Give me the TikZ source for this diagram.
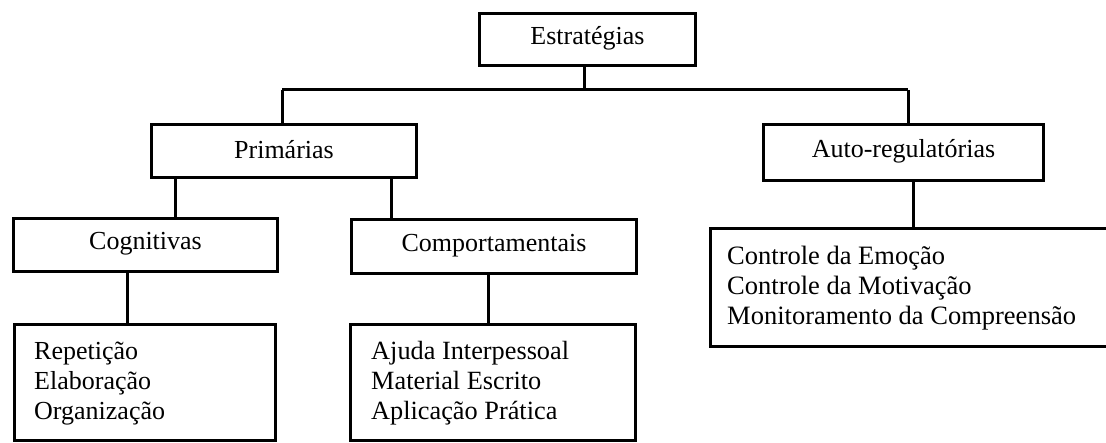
\documentclass[tikz,border=0pt]{standalone}
\usepackage{fontspec}
\setmainfont{Liberation Serif}
\begin{document}
\begin{tikzpicture}[x=1pt,y=1pt,
  box/.style={draw=black,line width=3pt,rectangle,inner sep=0pt},
  lbl/.style={inner sep=0pt,font=\fontsize{26}{30}\selectfont},
  lst/.style={inner sep=0pt,align=left,anchor=base west},
  conn/.style={draw=black,line width=3pt}]
\useasboundingbox (0,0) rectangle (1106,-443);
% boxes
\node[box,minimum width=216pt,minimum height=52.5pt] (E) at (587.5,-39.75) {};
\node[box,minimum width=265pt,minimum height=53pt] (P) at (284,-151) {};
\node[box,minimum width=280pt,minimum height=56pt] (A) at (903.5,-152.5) {};
\node[box,minimum width=264pt,minimum height=53pt] (C) at (145.5,-245) {};
\node[box,minimum width=285pt,minimum height=54pt] (M) at (494,-246.5) {};
\node[box,minimum width=261pt,minimum height=116pt] (CL) at (145,-382.5) {};
\node[box,minimum width=285pt,minimum height=116pt] (ML) at (493,-382.5) {};
\node[box,minimum width=401.5pt,minimum height=118.5pt] (AL) at (911.25,-287.75) {};
% labels
\node[lbl] (tE) at ([yshift=1pt]E.center) {Estratégias};
\node[lbl] (tP) at ([yshift=1pt]P.center) {Primárias};
\node[lbl] (tA) at ([yshift=1pt]A.center) {Auto-regulatórias};
\node[lbl] (tC) at ([yshift=1pt]C.center) {Cognitivas};
\node[lbl] (tM) at ([yshift=1pt]M.center) {Comportamentais};
\node[lbl,lst,font=\fontsize{26}{30}\selectfont] (tCL) at (34,-420) {Repetição\\Elaboração\\Organização};
\node[lbl,lst,font=\fontsize{26.3}{30}\selectfont] (tML) at (371,-420) {Ajuda Interpessoal\\Material Escrito\\Aplicação Prática};
\node[lbl,lst,font=\fontsize{26.5}{30}\selectfont] (tAL) at (727,-325) {Controle da Emoção\\Controle da Motivação\\Monitoramento da Compreensão};
% junctions
\coordinate (jE) at (584,-90);
\coordinate (jL) at (282,-90);
\coordinate (jR) at (908,-90);
\coordinate (jPC) at (175,-179);
\coordinate (jPM) at (391,-179);
\coordinate (jCL) at (127,-273);
\coordinate (jML) at (488,-275);
\coordinate (jAL) at (913,-182);
% connectors
\draw[conn] (E.south -| jE) -- (jE);
\draw[conn] (jL) -- (jR);
\draw[conn] (jL) -- (jL |- P.north);
\draw[conn] (jR) -- (jR |- A.north);
\draw[conn] (P.south -| jPC) -- (jPC |- C.north);
\draw[conn] (P.south -| jPM) -- (jPM |- M.north);
\draw[conn] (C.south -| jCL) -- (jCL |- CL.north);
\draw[conn] (M.south -| jML) -- (jML |- ML.north);
\draw[conn] (A.south -| jAL) -- (jAL |- AL.north);
\end{tikzpicture}
\end{document}
